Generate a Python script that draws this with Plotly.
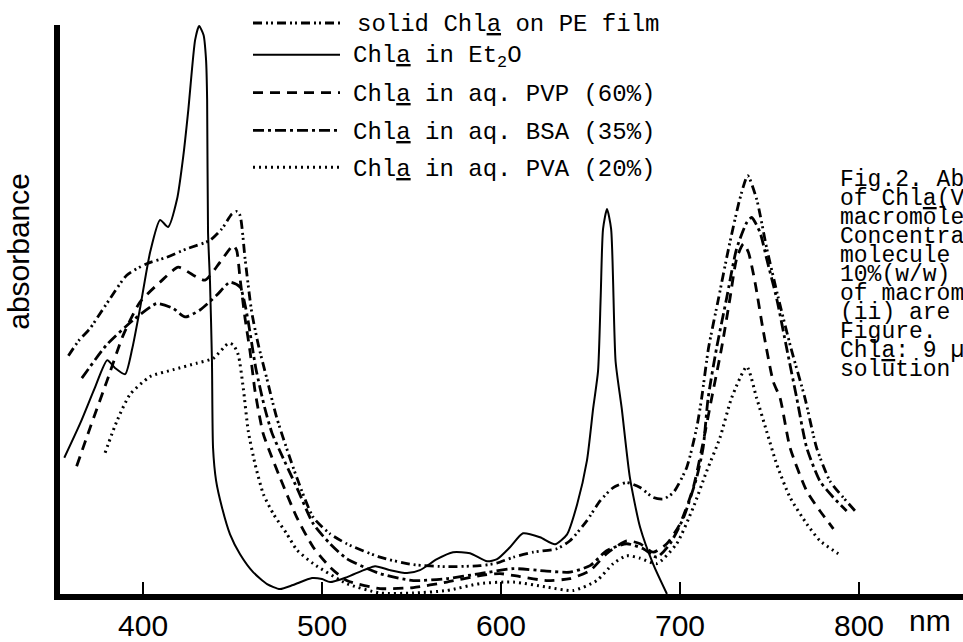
import plotly.graph_objects as go

# ---------------- data ----------------
tick_vals = [400, 500, 600, 700, 800]
tick_text = ["400", "500", "600", "700", "800"]

# solid Chla on PE film (dash-dot-dot)
film_nm = [358.3, 364, 370.4, 376, 381.6, 390.9, 402, 413.2, 424.4, 437.4,
           444, 449.6, 452.3, 454.2, 457, 460.7, 464.4, 469.1, 474.7, 485.9,
           495.1, 504.5, 513.8, 532.4, 551, 569.7, 588.3, 597.6, 606.9, 618,
           631.1, 638.5, 647.9, 655.3, 662.7, 670.2, 677.7, 685.1, 690.7, 696.3,
           703.7, 709.3, 712.1, 715.9, 721.5, 727.1, 733.4, 737.8, 742.8, 748.5,
           755, 762, 769.8, 776.3, 783.8, 791.2, 797.8]
film_abs = [0.485, 0.515, 0.54, 0.57, 0.60, 0.647, 0.67, 0.683, 0.70, 0.717,
            0.74, 0.77, 0.775, 0.767, 0.68, 0.573, 0.507, 0.44, 0.36, 0.24,
            0.16, 0.127, 0.107, 0.08, 0.065, 0.061, 0.063, 0.068, 0.08, 0.09,
            0.097, 0.113, 0.153, 0.193, 0.22, 0.23, 0.22, 0.20, 0.197, 0.21,
            0.26, 0.34, 0.40, 0.50, 0.60, 0.70, 0.80, 0.847, 0.80, 0.70,
            0.60, 0.50, 0.40, 0.30, 0.233, 0.20, 0.173]

# Chla in Et2O (solid)
et2o_nm = [356, 365, 373, 380, 384.5, 390, 394, 398.3, 404, 409.5,
           414, 419, 422.5, 425.3, 429.1, 431.3, 433.8, 435.2, 435.8, 436.3,
           437.4, 438.5, 439.1, 440.8, 444.1, 448.6, 454.2, 461.5, 469.3, 476.5,
           483.8, 494.4, 500, 504.5, 514, 529.6, 538, 547.5, 554.7, 564.2,
           573.2, 582.7, 592.2, 597.8, 605, 612.3, 621.8, 630.2, 636.9, 642.5,
           648, 651.5, 654.2, 655.7, 657, 659.2, 661.5, 664, 667.4, 672,
           677.7, 685, 692.7]
et2o_abs = [0.28, 0.35, 0.42, 0.476, 0.46, 0.448, 0.50, 0.58, 0.694, 0.758,
            0.744, 0.80, 0.887, 0.98, 1.12, 1.148, 1.13, 1.08, 1.00, 0.734,
            0.634, 0.474, 0.30, 0.234, 0.18, 0.126, 0.086, 0.05, 0.026, 0.016,
            0.024, 0.038, 0.036, 0.03, 0.04, 0.062, 0.054, 0.048, 0.054, 0.076,
            0.09, 0.088, 0.072, 0.076, 0.10, 0.128, 0.12, 0.106, 0.126, 0.186,
            0.274, 0.38, 0.454, 0.606, 0.74, 0.78, 0.74, 0.474, 0.38, 0.24,
            0.14, 0.066, 0.006]

# Chla in aq. PVP (60%) (dashed)
pvp_nm = [362.9, 370.4, 379.7, 389, 398.3, 409.5, 419.7, 428.1, 434.6, 443,
          450.4, 452.3, 454.2, 457, 459.8, 462.6, 467, 471, 476.5, 485.9,
          495.1, 504.5, 513.8, 532.4, 551, 569.7, 588.3, 599.4, 610.6, 625.5,
          638.5, 649.7, 659, 670.2, 677.7, 685.1, 692.6, 700, 707.4, 712.3,
          717.7, 723.2, 727.9, 731.6, 735.4, 738.2, 741.9, 746.6, 752.1, 755.9,
          761.5, 770.8, 778.2, 785.7]
pvp_abs = [0.263, 0.34, 0.433, 0.527, 0.593, 0.633, 0.663, 0.647, 0.637, 0.673,
           0.707, 0.697, 0.64, 0.56, 0.493, 0.413, 0.33, 0.29, 0.24, 0.16,
           0.10, 0.06, 0.033, 0.017, 0.019, 0.03, 0.043, 0.047, 0.041, 0.033,
           0.037, 0.053, 0.087, 0.113, 0.107, 0.09, 0.107, 0.147, 0.22, 0.30,
           0.40, 0.50, 0.60, 0.68, 0.71, 0.693, 0.633, 0.533, 0.433, 0.40,
           0.30, 0.213, 0.173, 0.137]

# Chla in aq. BSA (35%) (dash-dot)
bsa_nm = [365.8, 379.7, 394.6, 407.7, 416.9, 423.5, 431.8, 441.2, 448.6, 454.2,
          457, 458.8, 463, 468, 472, 476.5, 485.9, 495.1, 504.5, 513.8,
          532.4, 551, 569.7, 588.3, 606.9, 625.5, 638.5, 649.7, 659, 670.2,
          679.5, 687, 694.4, 702, 709.3, 712.9, 715.7, 720.4, 726, 731.6,
          737.3, 740, 744.7, 748.4, 754, 759.6, 765.2, 770.8, 778.2, 785.7,
          793.1]
bsa_abs = [0.44, 0.507, 0.557, 0.59, 0.58, 0.563, 0.577, 0.607, 0.633, 0.623,
           0.587, 0.553, 0.46, 0.38, 0.33, 0.293, 0.22, 0.147, 0.107, 0.077,
           0.047, 0.033, 0.037, 0.047, 0.057, 0.052, 0.05, 0.063, 0.093, 0.107,
           0.097, 0.08, 0.107, 0.16, 0.24, 0.30, 0.40, 0.50, 0.60, 0.70,
           0.753, 0.763, 0.733, 0.68, 0.60, 0.50, 0.40, 0.30, 0.233, 0.20,
           0.173]

# Chla in aq. PVA (20%) (dotted)
pva_nm = [378.8, 385.3, 392.7, 403.9, 416.9, 430, 439.3, 447.7, 450.4, 453.2,
          456, 458.8, 462.6, 467.2, 472.8, 480.3, 485.9, 495.1, 513.8, 532.4,
          551, 569.7, 588.3, 606.9, 625.5, 640.4, 653.5, 662.7, 670.2, 677.7,
          687, 698.1, 707.4, 714.9, 722.3, 728.8, 737.3, 742.8, 748.4, 754,
          761.5, 770.8, 778.2, 788.4]
pva_abs = [0.29, 0.353, 0.407, 0.443, 0.457, 0.47, 0.48, 0.51, 0.507, 0.487,
           0.42, 0.333, 0.267, 0.207, 0.167, 0.127, 0.095, 0.067, 0.027, 0.008,
           0.008, 0.013, 0.027, 0.03, 0.02, 0.013, 0.033, 0.067, 0.083, 0.078,
           0.067, 0.107, 0.18, 0.253, 0.32, 0.40, 0.463, 0.40, 0.333, 0.267,
           0.20, 0.147, 0.113, 0.087]

legend_labels = [
    "solid Chl<u>a</u> on PE film",
    "Chl<u>a</u> in Et<sub>2</sub>O",
    "Chl<u>a</u> in aq. PVP (60%)",
    "Chl<u>a</u> in aq. BSA (35%)",
    "Chl<u>a</u> in aq. PVA (20%)",
]

caption_lines = [
    "Fig.2. Ab",
    "of Chl<u>a</u>(V",
    "macromole",
    "Concentra",
    "molecule",
    "10%(w/w)",
    "of macrom",
    "(ii) are",
    "Figure.",
    "Chl<u>a</u>: 9 µ",
    "solution",
]

# ---------------- styles ----------------
DASH_FILM = "9px,4px,2px,3px,2px,4px"
DASH_PVP = "10px,7px"
DASH_BSA = "11px,4px,3px,4px"
DASH_PVA = "2px,4px"

series = [
    (film_nm, film_abs, DASH_FILM, 2.8),
    (et2o_nm, et2o_abs, "solid", 2.0),
    (pvp_nm, pvp_abs, DASH_PVP, 2.8),
    (bsa_nm, bsa_abs, DASH_BSA, 2.8),
    (pva_nm, pva_abs, DASH_PVA, 3.0),
]

W, H = 963, 642
ML, MR, MT, MB = 60, 0, 25, 45


def pxx(px):
    return (px - ML) / (W - ML - MR)


def pxy(py):
    return (H - MB - py) / (H - MT - MB)


fig = go.Figure()
for xs, ys, dash, w in series:
    fig.add_trace(go.Scatter(
        x=xs, y=ys, mode="lines",
        line=dict(color="black", width=w, dash=dash, shape="spline", smoothing=0.6),
        showlegend=False, hoverinfo="skip",
    ))

MONO = "Courier New, Liberation Mono, monospace"
SANS = "Liberation Sans, Arial, sans-serif"

# legend drawn as line samples + text
leg_line_y = [23, 55, 93, 131, 168]
leg_text_y = [24, 57, 95, 133, 170]
leg_text_x = [355, 351, 351, 351, 351]
for i, (lab, (_, _, dash, w)) in enumerate(zip(legend_labels, series)):
    fig.add_shape(type="line", xref="paper", yref="paper",
                  x0=pxx(253), x1=pxx(340), y0=pxy(leg_line_y[i]), y1=pxy(leg_line_y[i]),
                  line=dict(color="black", width=w, dash=dash))
    fig.add_annotation(xref="paper", yref="paper", x=pxx(leg_text_x[i]), y=pxy(leg_text_y[i]),
                       text=lab, showarrow=False, xanchor="left", yanchor="middle",
                       font=dict(family=MONO, size=24, color="black"))

# caption (cut at the right edge)
for i, line in enumerate(caption_lines):
    fig.add_annotation(xref="paper", yref="paper", x=pxx(838), y=pxy(181 + i * 19.1),
                       text=line, showarrow=False, xanchor="left", yanchor="middle",
                       font=dict(family=MONO, size=23, color="black"))

# axis titles
fig.add_annotation(xref="paper", yref="paper", x=pxx(930), y=pxy(624),
                   text="nm", showarrow=False, xanchor="center", yanchor="middle",
                   font=dict(family=SANS, size=30, color="black"))
fig.add_annotation(xref="paper", yref="paper", x=pxx(19), y=pxy(253),
                   text="absorbance", showarrow=False, textangle=-90,
                   xanchor="center", yanchor="middle",
                   font=dict(family=SANS, size=30, color="black"))

fig.update_xaxes(range=[353.6, 858.1], showline=True, linewidth=6, linecolor="black",
                 ticks="inside", ticklen=12, tickwidth=2, tickcolor="black",
                 tickvals=tick_vals, ticktext=tick_text,
                 tickfont=dict(family=SANS, size=30, color="black"),
                 showgrid=False, zeroline=False)
fig.update_yaxes(range=[0.006, 1.15], showline=True, linewidth=6, linecolor="black",
                 showticklabels=False, ticks="", showgrid=False, zeroline=False)

fig.update_layout(width=W, height=H, margin=dict(l=ML, r=MR, t=MT, b=MB),
                  paper_bgcolor="white", plot_bgcolor="white")

fig.write_html("out.html",
               config={"displayModeBar": False, "staticPlot": True},
               post_script="document.body.style.margin='0';document.body.style.overflow='hidden';")
